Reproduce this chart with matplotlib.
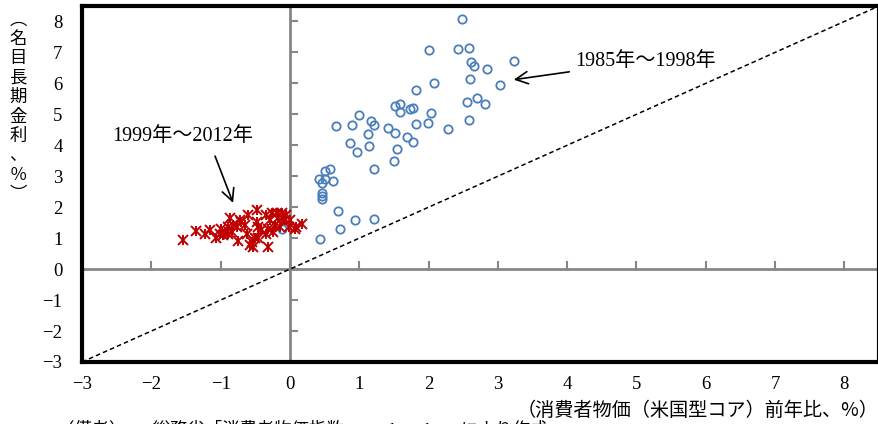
import matplotlib
matplotlib.use("Agg")
import matplotlib.pyplot as plt
import numpy as np

# 1985-1998 (blue open circles)
blue_x = [2.49, 2.01, 2.42, 2.59, 3.24, 2.62, 2.66, 2.84, 2.60, 2.08, 3.03, 1.82,
          2.55, 2.70, 2.82, 2.59, 1.52, 1.59, 1.59, 1.73, 1.77, 2.04, 1.99, 1.82,
          2.28, 0.99, 1.17, 1.21, 0.90, 0.66, 1.41, 1.52, 1.12, 1.69, 0.87, 1.77,
          1.14, 0.97, 1.55, 1.50, 1.21, 0.58, 0.51, 0.42, 0.51, 0.62, 0.47, 0.47,
          0.47, 0.47, 0.70, 0.94, 1.21, 0.72, 0.43, -0.12]
blue_y = [8.09, 7.07, 7.11, 7.15, 6.73, 6.69, 6.56, 6.47, 6.14, 6.01, 5.96, 5.79,
          5.41, 5.54, 5.33, 4.82, 5.28, 5.34, 5.07, 5.17, 5.21, 5.03, 4.72, 4.68,
          4.52, 4.98, 4.77, 4.64, 4.64, 4.61, 4.55, 4.39, 4.35, 4.26, 4.09, 4.10,
          3.97, 3.79, 3.87, 3.50, 3.24, 3.25, 3.16, 2.90, 2.92, 2.86, 2.77, 2.47,
          2.36, 2.27, 1.89, 1.59, 1.63, 1.29, 0.96, 1.31]

# 1999-2012 (red star markers)
red_x = [-0.34, -0.26, -0.19, -0.12, -0.05, -0.29, -0.17, -0.07, 0.00, -0.31,
         -0.22, -0.14, -0.02, 0.07, 0.17, 0.09, -0.34, -0.31, -0.48, -0.60,
         -0.72, -0.65, -0.48, -0.46, -0.41, -0.50, -0.55, -0.58, -0.46, -0.53,
         -0.87, -0.82, -0.77, -0.89, -0.94, -0.89, -0.99, -1.01, -1.06, -0.75,
         -1.16, -1.23, -1.35, -1.54, -0.70, -0.96, -0.84, -0.62, -0.24, -0.10]
red_y = [1.74, 1.80, 1.80, 1.82, 1.74, 1.58, 1.64, 1.58, 1.58, 1.31,
         1.42, 1.37, 1.37, 1.31, 1.47, 1.37, 1.15, 0.72, 1.90, 1.74,
         1.58, 1.42, 1.53, 1.37, 1.26, 0.99, 0.88, 0.77, 0.99, 0.72,
         1.64, 1.42, 1.37, 1.37, 1.20, 1.15, 1.31, 1.15, 0.99, 0.91,
         1.28, 1.15, 1.24, 0.94, 1.53, 1.10, 1.20, 1.15, 1.20, 1.69]

ticks = [-3, -2, -1, 0, 1, 2, 3, 4, 5, 6, 7, 8]
tick_labels = ["−3", "−2", "−1", "0", "1", "2", "3", "4", "5", "6", "7", "8"]
lim = [-3, 8.5]

label_blue = "1985年～1998年"
label_red = "1999年～2012年"
xlabel = "（消費者物価（米国型コア）前年比、%）"
ylabel = "︵名目長期金利、％︶"
note = "（備考）1．総務省「消費者物価指数」、Bloomberg により作成。"

SERIF_CJK = ["Liberation Serif", "Noto Sans CJK JP"]
CJK = ["Noto Sans CJK JP", "DejaVu Sans"]

fig = plt.figure(figsize=(8.79, 4.24), dpi=100)
ax = fig.add_axes([82/879, 1 - 362/424, 797/879, 356/424])
ax.set_xlim(lim)
ax.set_ylim(lim)

gray = "#868686"
ax.axhline(0, color=gray, lw=2, zorder=1)
ax.axvline(0, color=gray, lw=2, zorder=1)
ax.plot(ticks, np.zeros(len(ticks)), ls="", marker=2, ms=6, mew=1.5, color=gray, zorder=1)
ax.plot(np.zeros(len(ticks)), ticks, ls="", marker=1, ms=6, mew=1.5, color=gray, zorder=1)

ax.plot(lim, lim, color="black", lw=1.1, ls=(0, (3, 2)), zorder=2)

ax.plot(blue_x, blue_y, ls="", marker="o", ms=6, mfc="none", mec="#4A7EBB", mew=1.3, zorder=3)
ax.plot(red_x, red_y, ls="", marker="x", ms=6.5, mec="#C00000", mew=1.4, zorder=4)
ax.plot(red_x, red_y, ls="", marker="|", ms=7, mec="#C00000", mew=1.4, zorder=4)

ax.set_xticks(ticks)
ax.set_yticks(ticks)
ax.set_xticklabels(tick_labels, family="Liberation Serif", fontsize=13.5)
ax.set_yticklabels(tick_labels, family="Liberation Serif", fontsize=13.5)
ax.tick_params(length=0, pad=10)
ax.tick_params(axis="y", pad=14)
for s in ax.spines.values():
    s.set_linewidth(3)
    s.set_color("black")

ax.annotate(label_blue, xy=(3.23, 6.12), xytext=(4.11, 6.72),
            fontsize=14.5, family=SERIF_CJK, va="center", ha="left",
            arrowprops=dict(arrowstyle="->", color="black", lw=1.2,
                            mutation_scale=22, shrinkA=2, shrinkB=0))
ax.text(-2.57, 4.27, label_red, fontsize=14.5, family=SERIF_CJK, va="center", ha="left")
ax.annotate("", xy=(-0.82, 2.14), xytext=(-1.08, 3.65),
            arrowprops=dict(arrowstyle="->", color="black", lw=1.2,
                            mutation_scale=22, shrinkA=0, shrinkB=0))

fig.text(879/879, 1 - 410/424, xlabel, ha="right", va="center", fontsize=13.8, family=CJK)
fig.text(18/879, 1 - 107/424, "\n".join(ylabel), ha="center", va="center",
         fontsize=12.5, family=CJK, linespacing=1.1)
fig.text(57/879, 1 - 429/424, note, ha="left", va="center", fontsize=12.5, family=SERIF_CJK)

fig.savefig("out.png", dpi=100)
